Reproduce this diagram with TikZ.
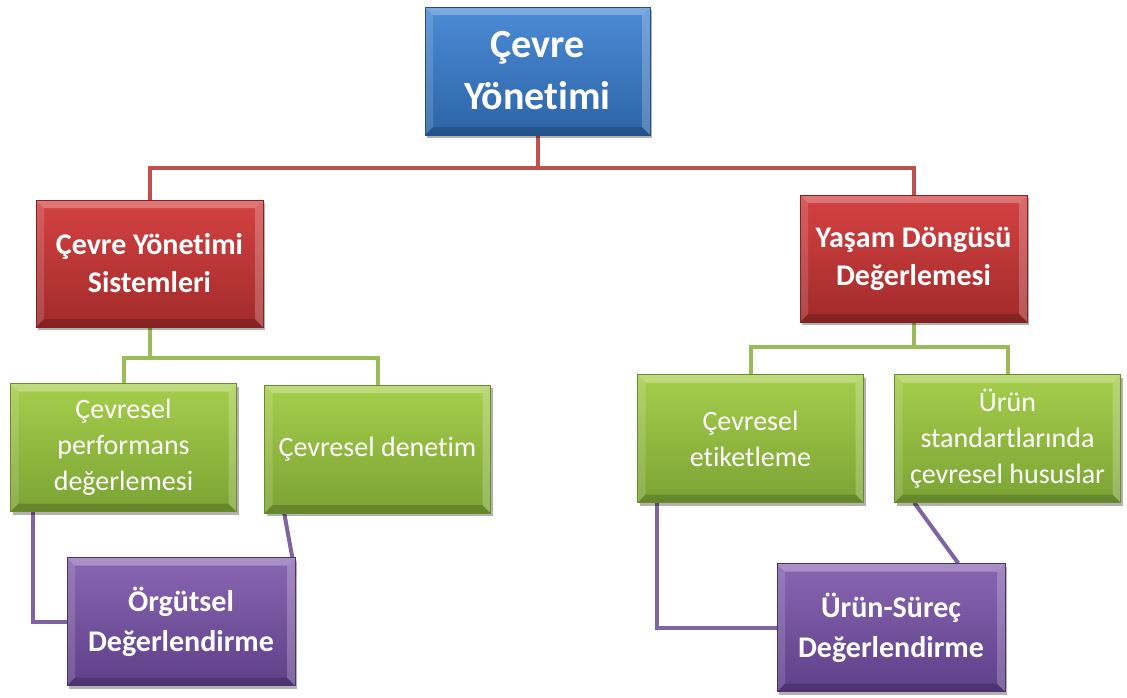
\documentclass[tikz,border=0pt]{standalone}
\usepackage{fontspec}
\setmainfont{Carlito}[Ligatures={CommonOff,ContextualOff}]
\usetikzlibrary{shadows,calc}
\pgfdeclarelayer{background}
\pgfsetlayers{background,main}

\definecolor{blueT}{HTML}{4C8BD6}
\definecolor{blueB}{HTML}{2C64A6}
\definecolor{redT}{HTML}{D44242}
\definecolor{redB}{HTML}{A22A2A}
\definecolor{greenT}{HTML}{A6CE4C}
\definecolor{greenB}{HTML}{7BA334}
\definecolor{purpT}{HTML}{8A66B2}
\definecolor{purpB}{HTML}{5E3F88}
\definecolor{redline}{HTML}{C0504D}
\definecolor{greenline}{HTML}{9BBB59}
\definecolor{purpline}{HTML}{8064A2}

\tikzset{
  bevel/.style={path picture={
    \fill[white,opacity=0.28]
      (path picture bounding box.north west) -- (path picture bounding box.north east)
      -- ([shift={(-8pt,-8pt)}]path picture bounding box.north east)
      -- ([shift={(8pt,-8pt)}]path picture bounding box.north west) -- cycle;
    \fill[white,opacity=0.14]
      (path picture bounding box.north west) -- (path picture bounding box.south west)
      -- ([shift={(8pt,8pt)}]path picture bounding box.south west)
      -- ([shift={(8pt,-8pt)}]path picture bounding box.north west) -- cycle;
    \fill[black,opacity=0.18]
      (path picture bounding box.south west) -- (path picture bounding box.south east)
      -- ([shift={(-8pt,8pt)}]path picture bounding box.south east)
      -- ([shift={(8pt,8pt)}]path picture bounding box.south west) -- cycle;
    \fill[white,opacity=0.22]
      (path picture bounding box.north east) -- (path picture bounding box.south east)
      -- ([shift={(-8pt,8pt)}]path picture bounding box.south east)
      -- ([shift={(-8pt,-8pt)}]path picture bounding box.north east) -- cycle;
  }},
  box/.style={rectangle, align=center, text=white, inner sep=4pt, bevel,
    drop shadow={shadow xshift=2pt, shadow yshift=-3pt, opacity=0.3, fill=black}},
  bluebox/.style={box, top color=blueT, bottom color=blueB, draw=blueB!80!black, line width=0.5pt,
    minimum width=225pt, minimum height=128pt, font=\fontsize{40}{52}\selectfont\bfseries},
  redbox/.style={box, top color=redT, bottom color=redB, draw=redB!80!black, line width=0.5pt,
    minimum width=227pt, minimum height=127pt, font=\fontsize{30}{38}\selectfont\bfseries},
  greenbox/.style={box, top color=greenT, bottom color=greenB, draw=greenB!85!black, line width=0.5pt,
    minimum width=226pt, minimum height=128pt, font=\fontsize{28}{36}\selectfont},
  purplebox/.style={box, top color=purpT, bottom color=purpB, draw=purpB!80!black, line width=0.5pt,
    minimum width=228pt, minimum height=128pt, font=\fontsize{30}{40}\selectfont\bfseries},
  redlink/.style={draw=redline, line width=4pt},
  greenlink/.style={draw=greenline, line width=4pt},
  purplink/.style={draw=purpline, line width=4pt},
}

\begin{document}
\begin{tikzpicture}[x=1pt, y=-1pt]
  \useasboundingbox (0,0) rectangle (1127,697);

  % boxes
  \node[bluebox] (top) at (537.5,71) {Çevre\\Yönetimi};
  \node[redbox] (cys) at (149.5,263.5) {Çevre Yönetimi\\Sistemleri};
  \node[redbox] (ydd) at (913.5,258.5) {Yaşam Döngüsü\\Değerlemesi};
  \node[greenbox] (cpd) at (123.5,447.5) {Çevresel\\performans\\değerlemesi};
  \node[greenbox] (cd) at (377.5,449) {Çevresel denetim};
  \node[greenbox] (ce) at (750.5,438.5) {Çevresel\\etiketleme};
  \node[greenbox] (us) at (1007.5,438.5) {Ürün\\standartlarında\\çevresel hususlar};
  \node[purplebox] (od) at (181,621.5) {Örgütsel\\Değerlendirme};
  \node[purplebox] (usd) at (891,627.5) {Ürün-Süreç\\Değerlendirme};

  % connectors, kept behind the boxes
  \begin{pgfonlayer}{background}
    \coordinate (tj) at ($(top.south)+(0,33)$);
    \draw[redlink] (top.south) -- (tj) -| (cys.north);
    \draw[redlink] (tj) -| (ydd.north);

    \coordinate (lj) at ($(cys.south)+(0,31)$);
    \draw[greenlink] (cys.south) -- (lj) -| (cpd.north);
    \draw[greenlink] (lj) -| (cd.north);

    \coordinate (rj) at ($(ydd.south)+(0,25)$);
    \draw[greenlink] (ydd.south) -- (rj) -| (ce.north);
    \draw[greenlink] (rj) -| (us.north);

    \draw[purplink] ([xshift=23pt]cpd.south west) |- (od.west);
    \draw[purplink] ([xshift=20pt]cd.south west) -- ([xshift=-3pt]od.north east);
    \draw[purplink] ([xshift=20pt]ce.south west) |- (usd.west);
    \draw[purplink] ([xshift=20pt]us.south west) -- ([xshift=-47pt]usd.north east);
  \end{pgfonlayer}
\end{tikzpicture}
\end{document}
